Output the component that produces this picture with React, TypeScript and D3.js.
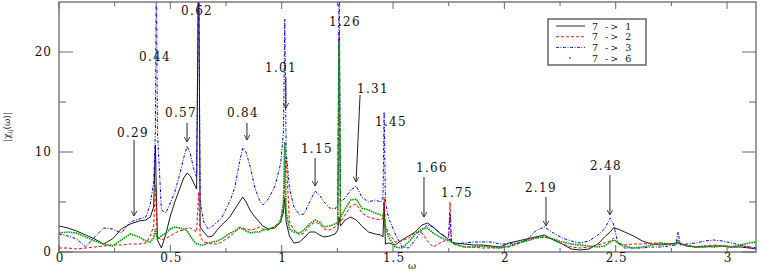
import React from "react";
import * as d3 from "d3";

// frequency grid (shared by all four spectra)
const omega = [
  0, 0.04, 0.08, 0.12, 0.16, 0.2, 0.24, 0.28, 0.32, 0.36, 0.39, 0.41, 0.425, 0.433, 0.437, 0.442,
  0.46, 0.48, 0.5, 0.52, 0.54, 0.56, 0.575, 0.59, 0.605, 0.618, 0.627, 0.634, 0.65, 0.67, 0.69,
  0.71, 0.73, 0.75, 0.77, 0.79, 0.81, 0.825, 0.84, 0.86, 0.88, 0.9, 0.915, 0.94, 0.97, 0.995,
  1.008, 1.014, 1.02, 1.035, 1.055, 1.08, 1.1, 1.125, 1.15, 1.17, 1.19, 1.215, 1.24, 1.252,
  1.258, 1.264, 1.285, 1.31, 1.335, 1.36, 1.39, 1.42, 1.445, 1.455, 1.46, 1.466, 1.48, 1.51,
  1.54, 1.57, 1.6, 1.63, 1.655, 1.68, 1.71, 1.74, 1.75, 1.756, 1.762, 1.78, 1.82, 1.86, 1.9,
  1.94, 1.98, 2.02, 2.06, 2.1, 2.14, 2.18, 2.22, 2.26, 2.3, 2.34, 2.38, 2.42, 2.45, 2.475,
  2.49, 2.51, 2.54, 2.58, 2.62, 2.66, 2.7, 2.74, 2.77, 2.78, 2.79, 2.82, 2.86, 2.9, 2.94,
  2.98, 3.02, 3.06, 3.1, 3.13,
];

// |chi_ij(omega)| for 7 -> 1
const chi71 = [
  2.6, 2.4, 2.1, 1.7, 1.3, 0.8, 1.3, 2.3, 2.8, 3.1, 3.2, 3.5, 4.5, 10.7, 6, 1.2,
  0.4, 1.8, 3.6, 5.0, 6.2, 7.4, 7.9, 7.6, 6.9, 6.3, 30, 2.5, 2.0, 1.5, 1.6,
  2.2, 2.7, 3.1, 3.6, 4.3, 5.0, 5.5, 5.0, 4.1, 3.5, 3.0, 2.6, 2.3, 2.4, 3.0,
  4.0, 5.4, 3.0, 1.6, 0.9, 1.0, 1.4, 2.0, 2.0, 1.7, 1.5, 1.6, 1.8, 2.2,
  3.5, 2.6, 3.2, 3.5, 3.2, 2.6, 2.0, 1.8, 1.7, 1.5, 5.0, 0.8, 0.9, 0.7,
  1.2, 1.6, 2.0, 2.7, 2.9, 2.5, 1.9, 1.4, 1.2, 1.3, 1.0, 0.9, 0.8, 0.7, 0.7,
  0.6, 0.5, 0.9, 1.1, 1.3, 1.5, 1.7, 1.2, 0.8, 0.3, 0.2, 0.3, 0.8, 1.5, 2.0,
  2.4, 2.3, 2.0, 1.6, 1.1, 0.8, 0.7, 0.8, 0.9, 1.0, 0.9, 0.6, 0.5, 0.5, 0.6,
  0.6, 0.5, 0.5, 0.4, 0.3,
];

// 7 -> 2
const chi72 = [
  0.4, 0.4, 0.3, 0.4, 0.5, 0.6, 0.7, 0.7, 0.8, 0.8, 0.9, 1.6, 2.6, 6.7, 4.0, 1.5,
  1.2, 1.4, 1.6, 1.9, 2.1, 2.2, 2.4, 2.4, 2.2, 2.0, 6.0, 1.5, 1.0, 0.9, 0.8,
  0.8, 1.0, 1.3, 1.6, 2.0, 2.5, 2.4, 2.3, 2.2, 2.3, 2.5, 2.3, 2.2, 2.6, 3.2,
  4.5, 7.0, 9.5, 3.0, 2.2, 1.7, 1.9, 2.6, 3.0, 2.8, 2.3, 2.2, 2.5, 2.8,
  22, 3.0, 3.7, 4.6, 4.8, 3.9, 3.5, 3.3, 3.2, 3.4, 5.5, 2.6, 1.9, 1.0,
  1.1, 1.4, 2.0, 1.9, 1.1, 0.5, 0.9, 1.2, 1.5, 5.0, 1.0, 0.7, 0.5, 0.5, 0.4,
  0.4, 0.4, 0.5, 0.8, 1.2, 1.4, 1.5, 1.3, 0.8, 0.5, 0.4, 0.5, 0.7, 0.9, 1.1,
  1.4, 0.9, 0.7, 0.8, 0.8, 0.9, 0.9, 0.8, 0.8, 1.2, 0.8, 0.7, 0.5, 0.6, 0.7,
  0.6, 0.5, 0.6, 0.5, 0.4,
];

// 7 -> 3
const chi73 = [
  1.8, 1.6, 1.3, 0.5, 1.5, 2.4, 2.3, 1.9, 3.0, 3.3, 3.5, 4.8, 7.0, 12, 30, 12,
  4.2, 3.9, 4.9, 6.0, 7.6, 9.4, 10.6, 9.8, 8.3, 7.5, 30, 5.0, 3.0, 2.3, 2.6,
  3.0, 3.4, 4.3, 5.2, 6.5, 8.9, 10.4, 10.0, 8.4, 6.4, 5.2, 4.7, 5.3, 6.6, 8.8,
  12, 23.3, 10, 6.4, 4.5, 3.7, 3.8, 5.0, 6.1, 5.7, 5.0, 4.4, 4.3, 4.8,
  30, 5.0, 5.4, 6.2, 6.6, 5.5, 5.0, 5.2, 5.0, 5.5, 14.0, 5.0, 3.4, 1.8,
  0.5, 0.4, 1.2, 2.2, 2.7, 2.5, 1.9, 1.5, 1.6, 3.9, 1.0, 0.8, 0.9, 1.0, 1.0,
  1.0, 0.8, 0.8, 0.9, 1.2, 2.1, 2.5, 1.9, 1.4, 1.1, 0.9, 1.1, 1.7, 2.3, 3.4,
  2.8, 0.9, 0.4, 0.4, 0.4, 0.5, 0.5, 0.6, 0.7, 2.0, 0.7, 0.8, 0.9, 1.1, 1.2,
  1.1, 0.9, 0.7, 0.5, 0.4,
];

// 7 -> 6
const chi76 = [
  1.9, 2.0, 1.9, 1.5, 1.1, 0.8, 0.6, 1.2, 1.8, 1.5, 1.1, 1.0, 1.4, 2.3, 1.8, 1.3,
  1.6, 1.9, 2.3, 2.5, 2.4, 2.3, 2.1, 1.6, 1.1, 0.8, 0.8, 0.7, 0.7, 0.9, 1.0,
  1.1, 1.3, 1.6, 1.9, 2.1, 2.4, 2.3, 2.1, 1.9, 2.0, 2.0, 2.2, 2.3, 2.5, 3.0,
  5, 11, 4.0, 2.3, 2.0, 1.9, 2.2, 2.8, 3.2, 3.0, 2.5, 2.6, 2.8, 3.0,
  21, 3.5, 4.3, 5.2, 5.3, 4.4, 4.2, 3.9, 3.7, 3.6, 3.4, 2.5, 1.5, 0.5,
  0.4, 1.0, 1.8, 2.3, 2.4, 1.9, 1.5, 1.2, 1.1, 1.1, 1.0, 0.8, 0.5, 0.5, 0.6,
  0.5, 0.4, 0.6, 0.9, 1.1, 1.4, 1.5, 1.3, 1.0, 0.8, 0.7, 0.6, 0.5, 0.6, 1.0,
  1.2, 0.9, 0.6, 0.4, 0.5, 0.7, 0.9, 0.8, 0.8, 0.9, 0.8, 0.6, 0.5, 0.6, 0.5,
  0.6, 0.5, 0.7, 0.9, 1.0,
];

const seriesNames = ["7 -> 1", "7 -> 2", "7 -> 3", "7 -> 6"];

// peak annotations: label, label position (omega, value)
const peakLabels = ["0.29", "0.44", "0.62", "0.57", "0.84", "1.01", "1.26", "1.31", "1.45", "1.15", "1.66", "1.75", "2.19", "2.48"];
const peakLabelW = [0.332, 0.431, 0.62, 0.548, 0.826, 0.997, 1.284, 1.41, 1.491, 1.158, 1.675, 1.787, 2.164, 2.456];
const peakLabelV = [11.9, 19.5, 24.1, 13.9, 13.9, 18.4, 23.0, 16.3, 13.0, 10.3, 8.4, 5.9, 6.4, 8.6];
// arrows: [omega from, value from, omega to, value to]
const peakArrows = [
  [0.337, 11.2, 0.337, 3.6],
  [0.575, 12.9, 0.575, 11.0],
  [0.844, 12.9, 0.844, 11.2],
  [1.019, 17.5, 1.019, 14.4],
  [1.352, 15.7, 1.334, 7.0],
  [1.15, 9.4, 1.15, 6.6],
  [1.639, 7.5, 1.639, 3.5],
  [2.187, 5.5, 2.187, 2.6],
  [2.474, 7.7, 2.474, 3.7],
];

const W = 763;
const H = 273;
const serif = "'DejaVu Serif', 'Liberation Serif', serif";

const styles = [
  { color: "#000000", width: 0.9, dash: "none" },
  { color: "#ff0000", width: 1, dash: "3,2" },
  { color: "#0000ff", width: 1, dash: "3,1.5,1,1.5" },
  { color: "#009a00", width: 1.6, dash: "1.6,0.8" },
];

export default function App() {
  const x = d3.scaleLinear().domain([0, 3.13]).range([59, 756]);
  const y = d3.scaleLinear().domain([0, 25]).range([252, 2]);
  const [x0, x1] = x.range();
  const [y0, y1] = y.range();

  const line = d3
    .line<number>()
    .x((_, i) => x(omega[i]))
    .y((d) => y(d));

  const allSeries = [chi71, chi72, chi73, chi76];
  const xMajor = d3.range(0, 3.01, 0.5);
  const xMinor = d3.range(0.25, 3.13, 0.5);
  const yMajor = y.ticks(3);
  const yMinor = d3.range(5, 25, 10);
  const frame = "#666";

  return (
    <svg
      width={W}
      height={H}
      style={{ position: "absolute", left: 0, top: 0, background: "#fff" }}
    >
      <defs>
        <clipPath id="plot">
          <rect x={x0} y={y1} width={x1 - x0} height={y0 - y1} />
        </clipPath>
        <marker id="head" viewBox="0 0 10 10" refX="9" refY="5" markerWidth="6" markerHeight="6" markerUnits="userSpaceOnUse" orient="auto">
          <path d="M0,0 L9,5 L0,10" fill="none" stroke="#222" strokeWidth="1.4" />
        </marker>
      </defs>

      {/* series */}
      <g clipPath="url(#plot)">
        {allSeries.map((s, i) => (
          <path
            key={i}
            d={line(s) ?? ""}
            fill="none"
            stroke={styles[i].color}
            strokeWidth={styles[i].width}
            strokeDasharray={styles[i].dash}
          />
        ))}
      </g>

      {/* frame */}
      <rect x={x0} y={y1} width={x1 - x0} height={y0 - y1} fill="none" stroke={frame} strokeWidth={1.3} />

      {/* x ticks, bottom and top, pointing inward */}
      {xMajor.map((t) => (
        <g key={"xM" + t}>
          <line x1={x(t)} x2={x(t)} y1={y0} y2={y0 - 7} stroke={frame} />
          <line x1={x(t)} x2={x(t)} y1={y1} y2={y1 + 7} stroke={frame} />
          <text x={x(t) + 1} y={y0 + 10} textAnchor="middle" fontFamily={serif} fontSize={12} letterSpacing={1} fill="#111">
            {t === 0 ? "0" : d3.format("~g")(t)}
          </text>
        </g>
      ))}
      {xMinor.map((t) => (
        <g key={"xm" + t}>
          <line x1={x(t)} x2={x(t)} y1={y0} y2={y0 - 4} stroke={frame} />
          <line x1={x(t)} x2={x(t)} y1={y1} y2={y1 + 4} stroke={frame} />
        </g>
      ))}

      {/* y ticks, left and right */}
      {yMajor.map((t) => (
        <g key={"yM" + t}>
          <line x1={x0} x2={x0 + 14} y1={y(t)} y2={y(t)} stroke={frame} />
          <line x1={x1} x2={x1 - 14} y1={y(t)} y2={y(t)} stroke={frame} />
          <text x={x0 - 7} y={y(t) + 4} textAnchor="end" fontFamily={serif} fontSize={12} letterSpacing={1} fill="#111">
            {t}
          </text>
        </g>
      ))}
      {yMinor.map((t) => (
        <g key={"ym" + t}>
          <line x1={x0} x2={x0 + 7} y1={y(t)} y2={y(t)} stroke={frame} />
          <line x1={x1} x2={x1 - 7} y1={y(t)} y2={y(t)} stroke={frame} />
        </g>
      ))}

      {/* axis titles */}
      <text x={412} y={269} textAnchor="middle" fontFamily={serif} fontSize={10} fill="#111">
        ω
      </text>
      <text transform="translate(10,127) rotate(-90)" textAnchor="middle" fontFamily={serif} fontSize={9} fill="#222">
        |χ<tspan fontSize={6} dy={2}>ij</tspan>
        <tspan dy={-2}>(ω)|</tspan>
      </text>

      {/* peak annotations */}
      {peakArrows.map((a, i) => (
        <line
          key={"ar" + i}
          x1={x(a[0])}
          y1={y(a[1])}
          x2={x(a[2])}
          y2={y(a[3])}
          stroke="#222"
          strokeWidth={1}
          markerEnd="url(#head)"
        />
      ))}
      {peakLabels.map((l, i) => (
        <text
          key={"pl" + l}
          x={x(peakLabelW[i])}
          y={y(peakLabelV[i]) + 4}
          textAnchor="middle"
          fontFamily={serif}
          fontSize={12}
          letterSpacing={1.3}
          fill="#111"
        >
          {l}
        </text>
      ))}

      {/* legend */}
      <g>
        <rect x={548} y={19} width={98} height={46} fill="#fff" stroke={frame} strokeWidth={1.5} />
        {seriesNames.map((n, i) => {
          const ly = 26 + i * 10.7;
          return (
            <g key={n}>
              {i < 3 ? (
                <line
                  x1={556}
                  x2={585}
                  y1={ly}
                  y2={ly}
                  stroke={i === 0 ? "#777" : styles[i].color}
                  strokeWidth={i === 0 ? 1.6 : 0.9}
                  strokeDasharray={styles[i].dash}
                />
              ) : (
                <circle cx={570} cy={ly} r={0.9} fill={styles[i].color} />
              )}
              <text x={592} y={ly + 3.5} fontFamily={serif} fontSize={9.5} letterSpacing={2} fill="#111">
                {n}
              </text>
            </g>
          );
        })}
      </g>
    </svg>
  );
}
